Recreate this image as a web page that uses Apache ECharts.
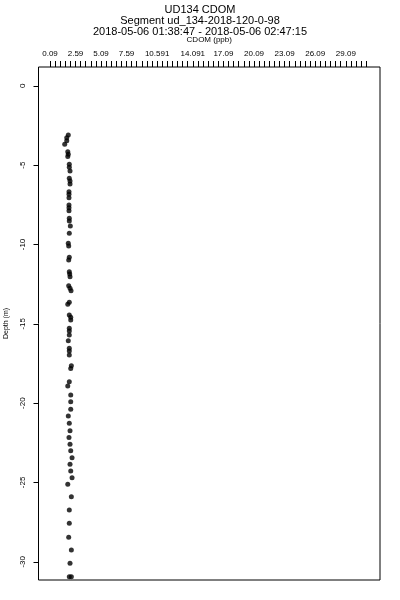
<!DOCTYPE html>
<html>
<head>
<meta charset="utf-8">
<script src="https://cdn.jsdelivr.net/npm/echarts@6/dist/echarts.min.js"></script>
<style>html,body{margin:0;padding:0;background:#fff}#c{width:400px;height:600px}</style>
</head>
<body>
<div id="c"></div>
<script>
// Depth (m) and CDOM (ppb)
const depth = [-3.10,-3.27,-3.46,-3.68,-4.15,-4.31,-4.46,-4.94,-5.13,-5.37,-5.83,-6.00,-6.19,-6.67,-6.83,-7.05,-7.51,-7.68,-7.87,-8.35,-8.52,-8.83,-9.29,-9.92,-10.09,-10.81,-10.98,-11.72,-11.86,-12.03,-12.60,-12.76,-12.91,-13.64,-13.77,-14.45,-14.59,-14.76,-15.28,-15.45,-15.71,-16.07,-16.54,-16.71,-16.97,-17.64,-17.81,-18.65,-18.92,-19.49,-19.91,-20.39,-20.81,-21.27,-21.74,-22.16,-22.60,-23.00,-23.44,-23.86,-24.28,-24.70,-25.12,-25.90,-26.74,-27.58,-28.46,-29.26,-30.10,-30.95,-30.95];
const cdom = [1.88,1.73,1.73,1.53,1.83,1.88,1.83,1.98,1.98,2.05,1.98,2.05,2.05,1.95,1.95,1.95,1.95,1.95,1.95,1.98,1.98,2.08,1.98,1.88,1.92,1.98,1.92,1.98,2.02,2.05,1.92,2.05,2.15,1.98,1.83,1.98,2.12,2.12,1.98,1.98,1.98,1.88,1.98,1.98,1.98,2.18,2.12,1.98,1.83,2.12,2.12,2.12,1.88,1.98,2.05,1.95,2.05,2.12,2.25,2.05,2.12,2.25,1.83,2.18,1.98,1.98,1.92,2.18,2.05,1.98,2.18];

const xTickLabels = ['0.09','2.59','5.09','7.59','10.591','14.091','17.09','20.09','23.09','26.09','29.09'];
const xTickValues = [0.09,2.59,5.09,7.59,10.59,14.09,17.09,20.09,23.09,26.09,29.09];
const yTickValues = [0,-5,-10,-15,-20,-25,-30];
const yTickLabels = ['0','-5','-10','-15','-20','-25','-30'];

const titleLines = ['UD134 CDOM','Segment ud_134-2018-120-0-98','2018-05-06 01:38:47 - 2018-05-06 02:47:15'];
const xName = 'CDOM (ppb)';
const yName = 'Depth (m)';

const xMinorTicks = [];
for (let k = 0; k <= 62; k++) xMinorTicks.push(+(0.09 + 0.5 * k).toFixed(2));

const points = depth.map((d, i) => [cdom[i], d]);
const FONT = 'Liberation Sans';

const chart = echarts.init(document.getElementById('c'), null, {renderer: 'canvas'});
chart.setOption({
  animation: false,
  backgroundColor: '#fff',
  title: {
    text: titleLines.join('\n'),
    left: 200, top: 4, padding: 0, textAlign: 'center',
    textStyle: {fontFamily: FONT, fontSize: 11, fontWeight: 'normal', color: '#000', lineHeight: 11}
  },
  grid: {left: 38.5, right: 20, top: 67, bottom: 20, show: true, borderColor: '#000', borderWidth: 1,
         backgroundColor: 'transparent', containLabel: false, outerBoundsMode: 'none'},
  xAxis: {
    type: 'value', position: 'top', min: -1.04, max: 32.44,
    name: xName, nameLocation: 'middle', nameGap: 23,
    nameTextStyle: {fontFamily: FONT, fontSize: 8, color: '#000'},
    axisLine: {show: false, onZero: false},
    axisTick: {show: true, inside: false, length: 6, customValues: xMinorTicks, lineStyle: {color: '#000', width: 1}},
    axisLabel: {
      customValues: xTickValues, margin: 9, fontFamily: FONT, fontSize: 8, color: '#000',
      formatter: function (v) {
        for (let i = 0; i < xTickValues.length; i++) if (Math.abs(xTickValues[i] - v) < 0.001) return xTickLabels[i];
        return '';
      }
    },
    splitLine: {show: false}
  },
  yAxis: {
    type: 'value', min: -31.15, max: 1.19,
    name: yName, nameLocation: 'middle', nameGap: 29,
    nameTextStyle: {fontFamily: FONT, fontSize: 7, color: '#000'},
    axisLine: {show: false, onZero: false},
    axisTick: {show: true, inside: false, length: 5, customValues: yTickValues, lineStyle: {color: '#000', width: 1}},
    axisLabel: {
      customValues: yTickValues, rotate: 90, margin: 12, fontFamily: FONT, fontSize: 8, color: '#000',
      formatter: function (v) {
        for (let i = 0; i < yTickValues.length; i++) if (Math.abs(yTickValues[i] - v) < 0.001) return yTickLabels[i];
        return '';
      }
    },
    splitLine: {show: false}
  },
  series: [{
    type: 'scatter', data: points, symbol: 'circle', symbolSize: 5,
    itemStyle: {color: '#000'}, silent: true
  }]
});
</script>
</body>
</html>
